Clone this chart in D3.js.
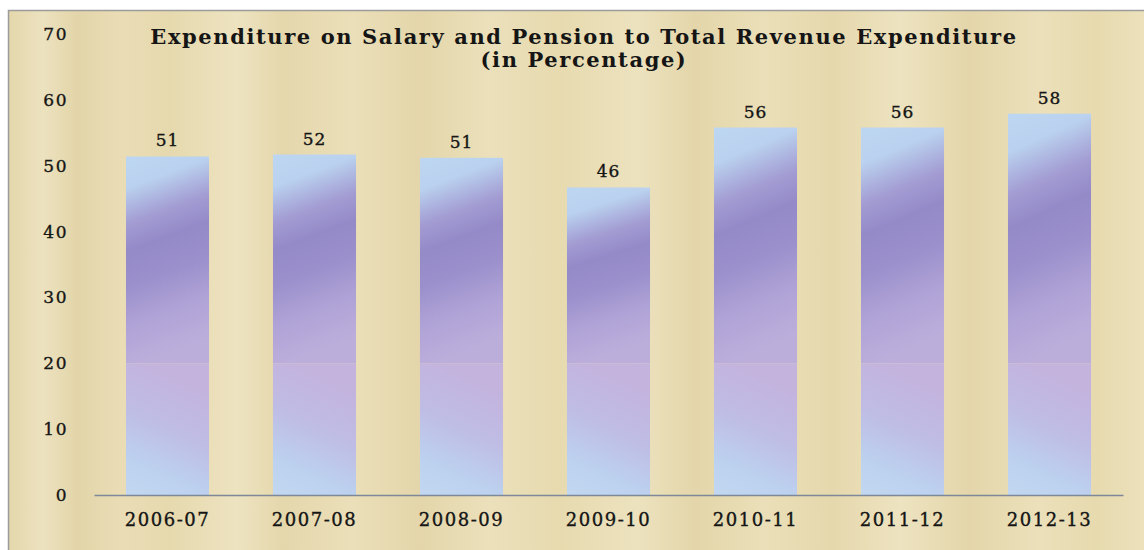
<!DOCTYPE html>
<html>
<head>
<meta charset="utf-8">
<script src="https://cdn.jsdelivr.net/npm/d3@7"></script>
<style>
body { margin:0; background:white; }
text { font-family: "DejaVu Serif", "Liberation Serif", serif; fill:#151515; }
</style>
</head>
<body>
<svg></svg>
<script>
// chart data
var years = ["2006-07","2007-08","2008-09","2009-10","2010-11","2011-12","2012-13"]
var percents = [51.4, 51.7, 51.2, 46.7, 55.8, 55.8, 57.9]
var valueLabels = ["51","52","51","46","56","56","58"]
var yTicks = [0,10,20,30,40,50,60,70]
var titleLines = ["Expenditure on Salary and Pension to Total Revenue Expenditure","(in Percentage)"]

var screen = {width:1144,height:550}
var margins = {left:94,right:21,top:34,bottom:55}

var makeDefs = function(svg)
{
    var defs = svg.append("defs")

    // tan paper with vertical streaks
    var paper = defs.append("linearGradient")
        .attr("id","paper")
        .attr("x1",0).attr("x2",1).attr("y1",0).attr("y2",0)
    var paperStops = [[0,"#e4d7ab"],[0.03,"#ece2bf"],[0.06,"#e3d5a9"],[0.1,"#eaddb6"],
        [0.14,"#e6d9ae"],[0.2,"#ede3c0"],[0.24,"#e5d7ac"],[0.3,"#ebdfb9"],[0.36,"#e4d6aa"],
        [0.42,"#ebe0bb"],[0.48,"#e7daaf"],[0.55,"#ece2be"],[0.6,"#e4d6aa"],[0.66,"#eadfb8"],
        [0.72,"#e6d8ad"],[0.78,"#ede3c0"],[0.84,"#e4d6aa"],[0.9,"#ebe0ba"],[0.95,"#e7daaf"],[1,"#ece2bd"]]
    paper.selectAll("stop").data(paperStops).enter().append("stop")
        .attr("offset",function(s){return s[0]})
        .attr("stop-color",function(s){return s[1]})

    var upper = defs.append("linearGradient")
        .attr("id","barUpper")
        .attr("x1",0).attr("y1",0).attr("x2",0.15).attr("y2",1)
    var upperStops = [[0,"#bdd6f1"],[0.15,"#bad2ef"],[0.32,"#a39dd3"],[0.45,"#948ac8"],
        [0.62,"#9b90cc"],[0.8,"#afa2d6"],[1,"#bcaedb"]]
    upper.selectAll("stop").data(upperStops).enter().append("stop")
        .attr("offset",function(s){return s[0]})
        .attr("stop-color",function(s){return s[1]})

    var lower = defs.append("linearGradient")
        .attr("id","barLower")
        .attr("x1",0.3).attr("y1",0).attr("x2",0).attr("y2",1)
    var lowerStops = [[0,"#c3b3dd"],[0.4,"#bfbde5"],[0.75,"#bcd2ef"],[1,"#c2d7f0"]]
    lower.selectAll("stop").data(lowerStops).enter().append("stop")
        .attr("offset",function(s){return s[0]})
        .attr("stop-color",function(s){return s[1]})
}

var drawBars = function(target, xScale, yScale)
{
    var bars = target.append("g").classed("bars",true)

    bars.selectAll("rect.upper")
        .data(percents)
        .enter()
        .append("rect")
        .classed("upper",true)
        .attr("x",function(d,i){return xScale(years[i])})
        .attr("y",function(d){return yScale(d)})
        .attr("width",xScale.bandwidth())
        .attr("height",function(d){return yScale(20)-yScale(d)})
        .attr("fill","url(#barUpper)")

    bars.selectAll("rect.lower")
        .data(percents)
        .enter()
        .append("rect")
        .classed("lower",true)
        .attr("x",function(d,i){return xScale(years[i])})
        .attr("y",yScale(20))
        .attr("width",xScale.bandwidth())
        .attr("height",yScale(0)-yScale(20))
        .attr("fill","url(#barLower)")

    bars.selectAll("text")
        .data(percents)
        .enter()
        .append("text")
        .text(function(d,i){return valueLabels[i]})
        .attr("x",function(d,i){return xScale(years[i])+xScale.bandwidth()/2})
        .attr("y",function(d){return yScale(d)-10})
        .attr("text-anchor","middle")
        .attr("font-size","17px")
        .attr("letter-spacing","1px")
        .attr("stroke","#151515")
        .attr("stroke-width",0.35)
}

var drawAxes = function(target, xScale, yScale, graph)
{
    var xAxis = d3.axisBottom(xScale).tickSize(0).tickPadding(18)
    var xg = target.append("g")
        .attr("transform","translate(0,"+graph.height+")")
        .call(xAxis)
    xg.select(".domain").attr("stroke","#7d8898").attr("stroke-width",1.6)
    xg.selectAll("text")
        .attr("font-family","DejaVu Serif")
        .attr("font-size","18px")
        .attr("letter-spacing","1.5px")
        .attr("fill","#151515")
        .attr("stroke","#151515")
        .attr("stroke-width",0.35)

    var yAxis = d3.axisLeft(yScale).tickValues(yTicks).tickSize(0).tickPadding(26)
    var yg = target.append("g").call(yAxis)
    yg.select(".domain").remove()
    yg.selectAll("text")
        .attr("font-family","DejaVu Serif")
        .attr("font-size","17px")
        .attr("letter-spacing","1.5px")
        .attr("fill","#151515")
        .attr("stroke","#151515")
        .attr("stroke-width",0.35)
}

var drawTitle = function(svg)
{
    var title = svg.append("g").classed("title",true)
    title.selectAll("text")
        .data(titleLines)
        .enter()
        .append("text")
        .text(function(t){return t})
        .attr("x",584)
        .attr("y",function(t,i){return 44+i*23})
        .attr("text-anchor","middle")
        .attr("font-weight","bold")
        .attr("font-size","21px")
        .attr("letter-spacing","1.6px")
}

var initGraph = function()
{
    var graph = {
        width:screen.width-margins.left-margins.right,
        height:screen.height-margins.top-margins.bottom
    }
    // 0..70 runs from y=495 up to y=34
    graph.height = 461

    var svg = d3.select("svg")
        .attr("width",screen.width)
        .attr("height",screen.height)

    makeDefs(svg)

    svg.append("rect")
        .attr("x",8.5).attr("y",10.5)
        .attr("width",screen.width)
        .attr("height",screen.height)
        .attr("fill","url(#paper)")
        .attr("stroke","#9c9c9c")
        .attr("stroke-width",1.5)

    var target = svg.append("g")
        .attr("id","graph")
        .attr("transform","translate("+margins.left+","+margins.top+")")

    var xScale = d3.scaleBand()
        .domain(years)
        .range([0,graph.width])
        .paddingInner(0.435)
        .paddingOuter(0.2175)

    var yScale = d3.scaleLinear()
        .domain([0,70])
        .range([graph.height,0])

    drawBars(target,xScale,yScale)
    drawAxes(target,xScale,yScale,graph)
    drawTitle(svg)
}

initGraph()
</script>
</body>
</html>
